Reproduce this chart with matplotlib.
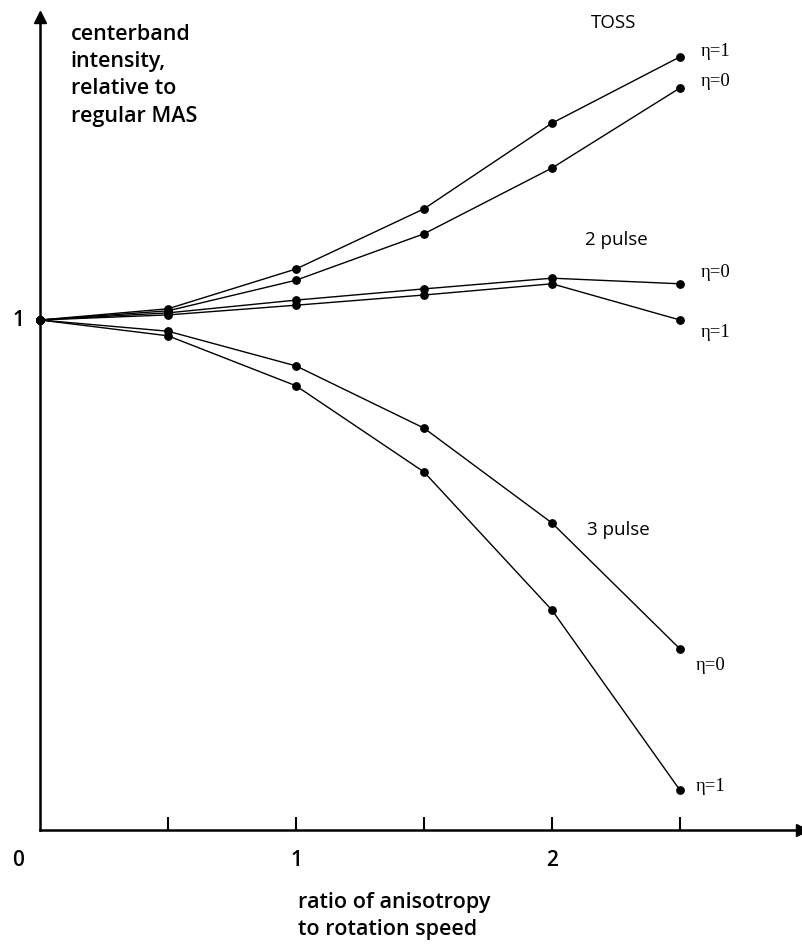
import matplotlib
matplotlib.use("Agg")
import matplotlib.pyplot as plt

# ---- data ----
x = [0, 0.5, 1.0, 1.5, 2.0, 2.5]
toss_eta1 = [1.0, 1.022, 1.100, 1.218, 1.386, 1.516]
toss_eta0 = [1.0, 1.018, 1.078, 1.169, 1.298, 1.455]
p2_eta0 = [1.0, 1.014, 1.039, 1.061, 1.082, 1.071]
p2_eta1 = [1.0, 1.010, 1.029, 1.049, 1.071, 1.000]
p3_eta0 = [1.0, 0.978, 0.910, 0.788, 0.602, 0.355]
p3_eta1 = [1.0, 0.969, 0.871, 0.702, 0.431, 0.078]

xticks = [0.5, 1.0, 1.5, 2.0, 2.5]
xticklabels = ["", "1", "", "2", ""]

W, H = 802, 945
fig = plt.figure(figsize=(W / 100, H / 100), dpi=100)
left_px, right_px, bottom_px, top_px = 40, 802, 831, 18
ax = fig.add_axes([left_px / W, 1 - bottom_px / H,
                   (right_px - left_px) / W, (bottom_px - top_px) / H])
ax.set_xlim(0, (right_px - left_px) / 256.0)
ax.set_ylim(0, (bottom_px - top_px) / 510.0)

sans = ["Open Sans", "DejaVu Sans"]
serif = ["Liberation Serif", "DejaVu Serif"]

for ys in (toss_eta1, toss_eta0, p2_eta0, p2_eta1, p3_eta0, p3_eta1):
    ax.plot(x, ys, color="black", lw=1.0, marker="o", markersize=5.3,
            markerfacecolor="black", markeredgecolor="black", clip_on=False)

# axes styling
for s in ("top", "right"):
    ax.spines[s].set_visible(False)
for s in ("left", "bottom"):
    ax.spines[s].set_linewidth(1.8)
ax.set_xticks(xticks)
ax.set_xticklabels(xticklabels, fontsize=15, fontweight="semibold", family=sans)
ax.tick_params(axis="x", direction="in", length=9.5, width=1.5, pad=14)
ax.set_yticks([])

# arrowheads
ax.plot(1, 0, ">k", markersize=9, transform=ax.transAxes, clip_on=False)
ax.plot(0, 1, "^k", markersize=9, transform=ax.transAxes, clip_on=False)

# axis labels
ax.text(-0.085, -0.058, "0", fontsize=15, fontweight="semibold",
        family=sans, ha="center", va="center")
ax.text(-0.085, 1.0, "1", fontsize=15, fontweight="semibold", family=sans,
        ha="center", va="center")
ax.text(0.12, 1.482, "centerband\nintensity,\nrelative to\nregular MAS",
        fontsize=15.5, fontweight="semibold", family=sans, ha="left", va="center",
        linespacing=1.4)
ax.text(1.006, -0.167, "ratio of anisotropy\nto rotation speed",
        fontsize=15.5, fontweight="semibold", family=sans, ha="left", va="center",
        linespacing=1.4)

# series labels
ax.text(2.24, 1.585, "TOSS", fontsize=13.5, family=sans, ha="center", va="center")
ax.text(2.25, 1.159, "2 pulse", fontsize=13.5, family=sans, ha="center", va="center")
ax.text(2.26, 0.590, "3 pulse", fontsize=13.5, family=sans, ha="center", va="center")
eta_labels = [
    (2.58, 1.528, "η=1"), (2.58, 1.470, "η=0"),
    (2.58, 1.096, "η=0"), (2.58, 0.977, "η=1"),
    (2.56, 0.325, "η=0"), (2.56, 0.087, "η=1"),
]
for ex, ey, t in eta_labels:
    ax.text(ex, ey, t, fontsize=13.5, family=serif, ha="left", va="center")

fig.savefig("out.png", dpi=100)
